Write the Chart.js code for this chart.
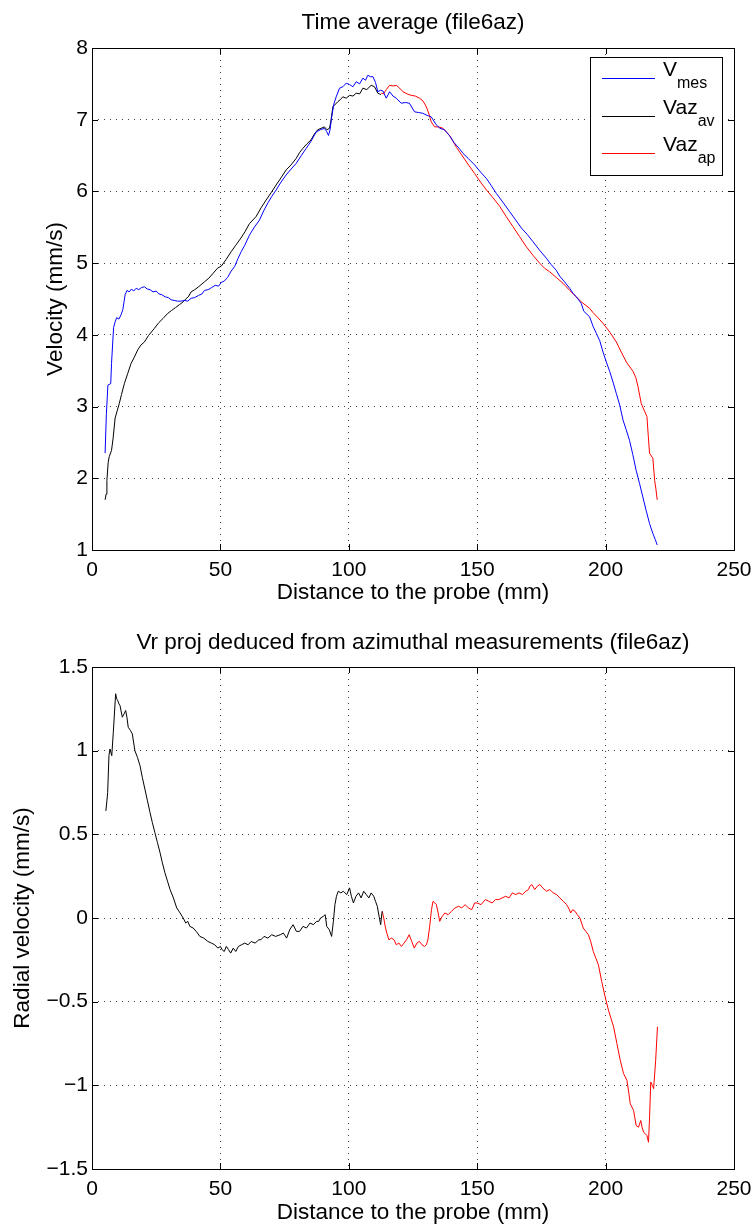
<!DOCTYPE html>
<html lang="en">
<head>
<meta charset="UTF-8">
<title>Time average (file6az)</title>
<script src="https://cdn.jsdelivr.net/npm/chart.js"></script>
<style>
    body { margin: 0; background: #fff; }
    .panel { position: absolute; left: 0; width: 754px; }
    #p1 { top: 0; height: 612px; }
    #p2 { top: 612px; height: 614px; }
</style>
</head>
<body>
<div class="panel" id="p1"><canvas id="topChart"></canvas></div>
<div class="panel" id="p2"><canvas id="bottomChart"></canvas></div>
<script>
// ---- data (distance in mm, velocity in mm/s) ----
const xTicks = [0, 50, 100, 150, 200, 250];
const topYTicks = [1, 2, 3, 4, 5, 6, 7, 8];
const bottomYTicks = [-1.5, -1, -0.5, 0, 0.5, 1, 1.5];

const legendBase = ['V', 'Vaz', 'Vaz'];
const legendSub = ['mes', 'av', 'ap'];

const vmesDist = [5.1,5.6,6.2,7.3,7.6,8.4,9.0,9.6,10.5,11.3,12.0,12.9,13.6,14.5,15.4,16.2,17.2,18.2,19.3,20.4,
    21.5,22.6,23.8,25.0,26.1,27.2,28.5,29.7,30.8,32.0,33.3,34.7,36.0,37.3,38.6,40.0,41.5,42.8,43.8,45.2,
    46.6,48.0,49.3,50.3,51.5,52.8,54.2,55.5,56.8,58.1,59.5,61.3,63.0,65.2,67.0,68.5,70.0,71.7,73.6,75.6,
    77.5,79.5,81.5,83.4,85.3,87.3,88.9,90.5,91.3,92.1,92.7,93.4,94.2,95.1,96.4,97.7,99.0,100.3,101.6,102.9,
    104.2,105.5,106.5,107.4,108.4,109.4,110.4,111.3,112.3,113.3,114.6,115.9,117.2,118.5,120.4,122.0,123.6,125.6,127.2,128.8,
    130.5,132.1,134.0,135.5,137.2,139.2,141.0,143.0,144.5,146.5,149.0,151.3,153.6,155.5,157.5,160.0,162.6,165.0,167.2,169.5,
    171.7,174.3,176.9,178.8,180.8,182.1,184.0,186.0,187.3,188.6,190.5,191.5,193.8,195.1,196.4,197.7,199.0,200.3,201.6,202.9,
    204.2,205.5,206.8,208.0,209.3,210.6,211.9,213.2,214.5,215.8,217.1,218.4,219.3,220.1];
const vmesVel = [2.35,2.90,3.30,3.32,3.60,4.10,4.18,4.24,4.22,4.28,4.35,4.56,4.62,4.60,4.64,4.61,4.65,4.63,4.66,4.67,
    4.64,4.63,4.60,4.61,4.57,4.56,4.53,4.52,4.49,4.48,4.47,4.47,4.48,4.47,4.51,4.52,4.55,4.57,4.62,4.63,
    4.66,4.69,4.68,4.73,4.75,4.80,4.89,4.95,5.06,5.16,5.25,5.39,5.49,5.60,5.74,5.84,5.93,6.02,6.13,6.23,
    6.31,6.39,6.50,6.60,6.70,6.83,6.86,6.88,6.84,6.78,6.86,7.05,7.22,7.32,7.44,7.46,7.51,7.49,7.46,7.53,
    7.50,7.58,7.55,7.62,7.60,7.60,7.52,7.39,7.41,7.40,7.30,7.39,7.33,7.30,7.23,7.24,7.23,7.11,7.10,7.09,
    7.06,7.04,6.93,6.88,6.86,6.78,6.68,6.60,6.53,6.46,6.37,6.27,6.18,6.08,5.97,5.85,5.72,5.60,5.49,5.40,
    5.30,5.18,5.07,4.98,4.90,4.82,4.74,4.65,4.58,4.53,4.44,4.33,4.25,4.12,4.02,3.92,3.76,3.62,3.49,3.34,
    3.18,3.02,2.81,2.68,2.53,2.33,2.11,1.93,1.74,1.55,1.37,1.23,1.15,1.07];

const vazAvDist = [5.1,5.5,5.8,6.3,6.7,7.6,8.2,9.0,9.8,10.6,11.5,12.6,13.9,15.2,16.5,17.8,19.1,20.4,22.0,24.3,
    26.0,27.7,29.5,31.0,32.5,34.0,35.5,36.5,37.5,38.6,40.0,41.5,43.8,45.5,47.2,48.9,50.4,52.2,54.2,56.0,
    58.0,59.6,61.3,63.9,65.8,67.8,69.7,71.7,73.6,75.6,77.5,79.5,80.8,82.1,83.6,85.3,86.6,87.9,89.2,90.5,
    91.5,92.5,93.1,93.8,95.7,96.7,97.7,99.0,100.3,101.6,102.9,104.2,105.5,107.0,108.7,110.0,111.3,112.5];
const vazAvVel = [1.70,1.78,1.97,2.22,2.30,2.39,2.55,2.84,2.94,3.04,3.17,3.32,3.46,3.60,3.69,3.79,3.86,3.90,3.99,4.09,
    4.17,4.23,4.30,4.34,4.38,4.42,4.46,4.50,4.53,4.60,4.63,4.67,4.74,4.79,4.86,4.93,4.96,5.05,5.16,5.25,
    5.35,5.44,5.55,5.65,5.77,5.88,5.98,6.09,6.19,6.30,6.37,6.46,6.54,6.60,6.66,6.72,6.80,6.86,6.88,6.90,
    6.86,6.88,7.00,7.18,7.25,7.28,7.32,7.30,7.34,7.33,7.37,7.36,7.44,7.42,7.48,7.46,7.37,7.35];

const vazApDist = [112.6,113.5,114.6,115.9,117.2,118.5,119.8,121.1,122.7,124.3,125.9,127.6,128.9,130.2,131.2,132.1,133.4,135.0,136.7,138.0,
    139.6,142.0,144.5,146.8,149.0,151.3,153.6,156.2,158.8,161.3,163.9,166.5,169.1,171.7,174.3,176.2,178.2,180.8,183.4,186.0,
    188.6,190.5,193.8,195.1,197.0,199.0,201.6,204.2,206.1,208.1,210.7,211.8,212.6,213.3,213.9,215.0,216.1,216.6,217.1,218.4,
    219.1,219.6,220.1];
const vazApVel = [7.37,7.36,7.42,7.48,7.47,7.48,7.44,7.39,7.36,7.34,7.33,7.30,7.26,7.18,7.08,6.97,6.90,6.90,6.88,6.83,
    6.76,6.61,6.48,6.36,6.25,6.13,6.02,5.91,5.79,5.65,5.51,5.37,5.23,5.11,5.00,4.93,4.88,4.80,4.72,4.62,
    4.53,4.46,4.37,4.31,4.24,4.16,4.04,3.90,3.76,3.62,3.49,3.40,3.28,3.15,3.04,2.95,2.86,2.60,2.35,2.28,
    1.97,1.85,1.70];

const vrAvDist = [5.4,5.8,6.1,6.6,7.0,7.7,8.3,9.2,9.6,10.0,10.5,10.9,11.8,12.5,13.1,13.6,14.1,15.0,15.7,16.7,
    17.7,18.7,19.6,20.6,21.6,22.6,23.5,24.5,25.5,26.5,27.4,28.4,29.4,30.4,31.7,33.0,34.3,35.5,36.5,37.3,
    38.1,39.4,40.6,42.0,43.5,45.1,46.5,47.8,49.0,50.0,50.7,51.5,52.3,53.2,54.0,55.0,56.0,57.0,58.2,59.5,
    60.8,62.0,63.5,65.0,65.8,67.0,68.5,70.0,71.5,73.3,74.5,75.8,77.0,78.3,79.6,80.8,82.2,83.5,84.9,86.2,
    87.5,88.3,89.0,90.1,90.8,91.4,92.4,93.3,94.0,94.6,95.2,95.9,96.9,97.9,98.5,99.2,100.3,101.0,101.8,102.8,
    103.8,104.8,105.8,106.8,107.8,108.7,109.7,110.4,111.1,111.8,112.4,113.0];
const vrAvVel = [0.64,0.70,0.75,0.97,1.01,0.97,1.11,1.34,1.31,1.30,1.28,1.27,1.20,1.22,1.24,1.20,1.14,1.12,1.10,1.00,
    0.96,0.91,0.84,0.77,0.70,0.63,0.57,0.51,0.45,0.39,0.33,0.27,0.22,0.17,0.12,0.06,0.03,0.00,-0.03,-0.02,
    -0.05,-0.06,-0.08,-0.11,-0.12,-0.14,-0.15,-0.16,-0.18,-0.17,-0.19,-0.20,-0.17,-0.19,-0.21,-0.18,-0.20,-0.17,-0.16,-0.15,
    -0.16,-0.14,-0.15,-0.13,-0.13,-0.11,-0.12,-0.10,-0.11,-0.10,-0.09,-0.12,-0.07,-0.04,-0.08,-0.08,-0.05,-0.06,-0.03,-0.04,
    -0.02,-0.02,0.00,0.01,0.02,-0.05,-0.07,-0.11,-0.02,0.08,0.13,0.16,0.15,0.16,0.15,0.14,0.18,0.13,0.09,0.13,
    0.15,0.12,0.16,0.14,0.12,0.15,0.13,0.10,0.07,0.01,-0.04,0.04];

const vrApDist = [113.0,113.6,114.3,115.0,115.6,116.6,117.6,118.5,119.5,120.5,121.5,122.5,123.5,124.5,125.5,126.5,127.5,128.5,129.5,130.2,
    130.8,131.5,132.2,132.8,133.5,134.1,134.8,135.4,136.4,137.4,138.7,140.0,141.3,142.7,144.0,145.3,146.6,147.9,149.0,149.9,
    151.5,153.2,154.5,155.8,157.1,158.4,159.7,161.1,162.4,163.7,165.0,166.3,167.6,168.9,170.0,170.5,171.3,172.4,173.4,174.4,
    175.5,177.0,178.3,179.6,180.9,182.2,183.5,184.8,185.6,186.4,187.2,188.1,189.0,190.0,191.3,192.3,193.3,194.2,195.2,196.2,
    197.2,198.5,199.8,201.1,202.1,203.1,204.4,205.7,207.0,208.3,209.0,209.6,210.9,211.9,212.8,213.7,214.2,214.8,215.5,216.1,
    216.7,217.1,217.6,218.2,218.7,219.5,220.2];
const vrApVel = [0.04,0.00,-0.06,-0.10,-0.13,-0.12,-0.13,-0.16,-0.15,-0.17,-0.15,-0.13,-0.10,-0.14,-0.18,-0.15,-0.14,-0.16,-0.17,-0.16,
    -0.13,-0.05,0.05,0.10,0.09,0.08,0.03,-0.02,0.01,0.03,0.02,0.04,0.06,0.07,0.06,0.08,0.06,0.05,0.09,0.09,
    0.08,0.11,0.10,0.09,0.11,0.11,0.12,0.13,0.12,0.15,0.14,0.15,0.14,0.16,0.17,0.19,0.20,0.17,0.19,0.20,
    0.18,0.16,0.17,0.15,0.14,0.12,0.10,0.08,0.06,0.03,0.05,0.04,0.02,0.00,-0.06,-0.08,-0.10,-0.14,-0.20,-0.24,
    -0.28,-0.38,-0.47,-0.55,-0.60,-0.65,-0.75,-0.85,-0.93,-0.97,-1.04,-1.11,-1.15,-1.24,-1.25,-1.21,-1.25,-1.28,-1.29,-1.30,
    -1.34,-1.20,-0.98,-1.00,-1.02,-0.85,-0.65];

// ---- helpers ----
const FONT = "'Liberation Sans', Arial, Helvetica, sans-serif";
const pts = (xs, ys) => xs.map((x, i) => ({ x: x, y: ys[i] }));
const fmt = v => {
    const s = String(Math.round(v * 10) / 10);
    return s.replace('-', '\u2212');
};

function line(data, color) {
    return {
        data: data, borderColor: color, borderWidth: 1,
        pointRadius: 0, tension: 0, fill: false
    };
}

// MATLAB-like box with inward tick marks
const framePlugin = {
    id: 'frame',
    afterDraw(chart) {
        const { ctx, chartArea: a, scales } = chart;
        ctx.save();
        ctx.strokeStyle = '#000';
        ctx.lineWidth = 1;
        ctx.strokeRect(Math.round(a.left) + 0.5, Math.round(a.top) + 0.5,
            Math.round(a.right - a.left), Math.round(a.bottom - a.top));
        ctx.beginPath();
        scales.x.ticks.forEach(t => {
            const px = Math.round(scales.x.getPixelForValue(t.value)) + 0.5;
            ctx.moveTo(px, a.bottom); ctx.lineTo(px, a.bottom - 6);
            ctx.moveTo(px, a.top); ctx.lineTo(px, a.top + 6);
        });
        scales.y.ticks.forEach(t => {
            const py = Math.round(scales.y.getPixelForValue(t.value)) + 0.5;
            ctx.moveTo(a.left, py); ctx.lineTo(a.left + 6, py);
            ctx.moveTo(a.right, py); ctx.lineTo(a.right - 6, py);
        });
        ctx.stroke();
        ctx.restore();
    }
};

// legend with subscripts, drawn in the upper right corner
const subLegendPlugin = {
    id: 'subLegend',
    afterDraw(chart, args, opts) {
        if (!opts.show) return;
        const { ctx, chartArea: a } = chart;
        const boxL = a.right - 144, boxT = a.top + 9, boxW = 132, boxH = 118;
        ctx.save();
        ctx.fillStyle = '#fff';
        ctx.fillRect(boxL, boxT, boxW, boxH);
        ctx.strokeStyle = '#000';
        ctx.lineWidth = 1;
        ctx.strokeRect(boxL + 0.5, boxT + 0.5, boxW, boxH);
        chart.data.datasets.forEach((ds, i) => {
            const y = boxT + 21 + i * 37.5;
            ctx.strokeStyle = ds.borderColor;
            ctx.beginPath();
            ctx.moveTo(boxL + 12, Math.round(y) + 0.5);
            ctx.lineTo(boxL + 65, Math.round(y) + 0.5);
            ctx.stroke();
            ctx.fillStyle = '#000';
            ctx.textBaseline = 'alphabetic';
            ctx.font = '21px ' + FONT;
            ctx.fillText(legendBase[i], boxL + 73, y - 2);
            const w = ctx.measureText(legendBase[i]).width;
            ctx.font = '16px ' + FONT;
            ctx.fillText(legendSub[i], boxL + 73 + w, y + 10);
        });
        ctx.restore();
    }
};

function makeOptions(cfg) {
    return {
        responsive: true,
        maintainAspectRatio: false,
        animation: false,
        devicePixelRatio: 1,
        layout: { padding: { left: 0, right: 20, top: 0, bottom: 0 } },
        plugins: {
            legend: { display: false },
            tooltip: { enabled: false },
            title: {
                display: true, text: cfg.title, color: '#000', fullSize: false,
                font: { family: FONT, size: 22.5, weight: 'normal', lineHeight: 1.2 },
                padding: cfg.titlePad
            },
            subLegend: { show: cfg.legend }
        },
        scales: {
            x: {
                type: 'linear', min: 0, max: 250,
                afterBuildTicks: s => { s.ticks = xTicks.map(v => ({ value: v })); },
                afterFit: s => { s.height = cfg.xHeight; s.paddingLeft = 0; s.paddingRight = 0; },
                grid: { color: 'rgba(0,0,0,0.75)', lineWidth: 1, drawTicks: false },
                border: { display: false, dash: [1, 5] },
                ticks: { color: '#000', padding: 8, maxRotation: 0,
                    font: { family: FONT, size: 21 }, callback: v => fmt(v) },
                title: { display: true, text: 'Distance to the probe (mm)', color: '#000',
                    font: { family: FONT, size: 22.5, lineHeight: 1.2 },
                    padding: { top: 0, bottom: cfg.xTitlePad } }
            },
            y: {
                min: cfg.yMin, max: cfg.yMax,
                afterBuildTicks: s => { s.ticks = cfg.yTicks.map(v => ({ value: v })); },
                afterFit: s => { s.width = 92; s.paddingTop = 0; s.paddingBottom = 0; },
                grid: { color: 'rgba(0,0,0,0.75)', lineWidth: 1, drawTicks: false },
                border: { display: false, dash: [1, 5] },
                ticks: { color: '#000', padding: 4,
                    font: { family: FONT, size: 21 }, callback: v => fmt(v) },
                title: { display: true, text: cfg.yTitle, color: '#000',
                    font: { family: FONT, size: 22.5, lineHeight: 1.2 },
                    padding: { top: cfg.yTitlePad, bottom: 0 } }
            }
        }
    };
}

new Chart(document.getElementById('topChart'), {
    type: 'line',
    data: {
        datasets: [
            line(pts(vmesDist, vmesVel), '#0000ff'),
            line(pts(vazAvDist, vazAvVel), '#000000'),
            line(pts(vazApDist, vazApVel), '#ff0000')
        ]
    },
    options: makeOptions({
        title: 'Time average (file6az)', titlePad: { top: 9.5, bottom: 11.5 },
        yTitle: 'Velocity (mm/s)', yTitlePad: 42.5,
        yMin: 1, yMax: 8, yTicks: topYTicks,
        xHeight: 62, xTitlePad: 5.5, legend: true
    }),
    plugins: [framePlugin, subLegendPlugin]
});

new Chart(document.getElementById('bottomChart'), {
    type: 'line',
    data: {
        datasets: [
            line(pts(vrAvDist, vrAvVel), '#000000'),
            line(pts(vrApDist, vrApVel), '#ff0000')
        ]
    },
    options: makeOptions({
        title: 'Vr proj deduced from azimuthal measurements (file6az)', titlePad: { top: 17.5, bottom: 10.5 },
        yTitle: 'Radial velocity (mm/s)', yTitlePad: 9.5,
        yMin: -1.5, yMax: 1.5, yTicks: bottomYTicks,
        xHeight: 57, xTitlePad: 0, legend: false
    }),
    plugins: [framePlugin, subLegendPlugin]
});
</script>
</body>
</html>
